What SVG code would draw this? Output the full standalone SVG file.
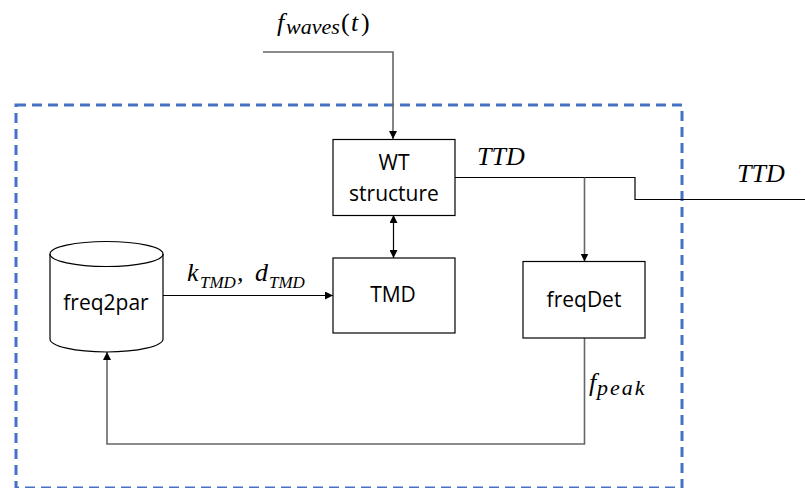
<svg xmlns="http://www.w3.org/2000/svg" width="805" height="488" viewBox="0 0 805 488">
<defs>
<marker id="ah" viewBox="0 0 10 10" refX="10" refY="5" markerWidth="8" markerHeight="8" markerUnits="userSpaceOnUse" orient="auto-start-reverse">
<path d="M0,0 L10,5 L0,10 z" fill="#000"/>
</marker>
<style>
.box{fill:#fff;stroke:#000;stroke-width:1.2}
.lbl{font-family:"Open Sans","Liberation Sans",sans-serif;font-size:21px;fill:#000;text-anchor:middle}
.math{font-family:"Liberation Serif","DejaVu Serif",serif;font-style:italic;font-size:26px;fill:#000}
.sub{font-size:22px}
.subc{font-size:17px}
.up{font-style:normal}
.ln{fill:none;stroke:#000;stroke-width:1.2}
.gr{fill:none;stroke:#666;stroke-width:1.6}
</style>
</defs>
<rect x="16" y="105" width="666" height="383" fill="none" stroke="#4472C4" stroke-width="3" stroke-dasharray="10 6"/>
<g id="connectors">
<polyline class="gr" points="263,52 393,52 393,139" marker-end="url(#ah)"/>
<polyline class="ln" points="455,177.5 635,177.5 635,199.5 805,199.5"/>
<line class="gr" x1="584.5" y1="177.5" x2="584.5" y2="261.5" marker-end="url(#ah)"/>
<line class="ln" x1="393.5" y1="215" x2="393.5" y2="258" marker-start="url(#ah)" marker-end="url(#ah)"/>
<line class="ln" x1="163" y1="295.5" x2="333" y2="295.5" marker-end="url(#ah)"/>
<polyline class="gr" points="584.5,338 584.5,444 107,444 107,352" marker-end="url(#ah)"/>
</g>
<g id="wt">
<rect class="box" x="333" y="139.5" width="122" height="76"/>
<text class="lbl" x="394" y="170">WT</text>
<text class="lbl" x="394" y="201">structure</text>
</g>
<g id="tmd">
<rect class="box" x="333" y="258" width="122" height="75"/>
<text class="lbl" x="393" y="302">TMD</text>
</g>
<g id="freqdet">
<rect class="box" x="523" y="261.5" width="122" height="76.5"/>
<text class="lbl" x="584" y="307">freqDet</text>
</g>
<g id="freq2par">
<path class="box" d="M50,254 L50,339 A56.5,13 0 0 0 163,339 L163,254 A56.5,12.5 0 0 0 50,254 Z"/>
<path class="box" style="fill:none" d="M50,254 A56.5,12.5 0 0 0 163,254"/>
<text class="lbl" x="106" y="310">freq2par</text>
</g>
<g id="labels">
<text class="math"><tspan x="277" y="31">f</tspan><tspan class="sub" x="286" y="34">waves</tspan><tspan class="up" x="341" y="31">(</tspan><tspan x="351" y="31">t</tspan><tspan class="up" x="361" y="31">)</tspan></text>
<text class="math" x="477" y="165">TTD</text>
<text class="math" x="737" y="182">TTD</text>
<text class="math"><tspan x="187" y="281">k</tspan><tspan class="subc" x="200" y="288">TMD</tspan><tspan x="237" y="281">,</tspan><tspan x="255" y="281">d</tspan><tspan class="subc" x="269" y="288">TMD</tspan></text>
<text class="math"><tspan x="589" y="391">f</tspan><tspan class="sub" x="597" y="395" letter-spacing="2">peak</tspan></text>
</g>
</svg>
